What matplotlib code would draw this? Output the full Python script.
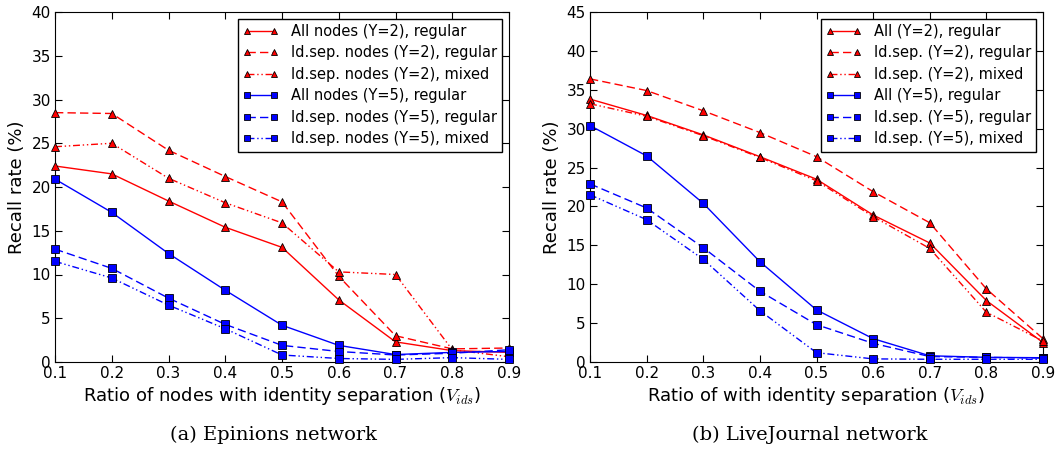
import matplotlib
matplotlib.use("Agg")
import matplotlib.pyplot as plt

plt.rcParams['font.family'] = ['DejaVu Sans']
plt.rcParams['mathtext.fontset'] = 'cm'

x = [0.1, 0.2, 0.3, 0.4, 0.5, 0.6, 0.7, 0.8, 0.9]

# Epinions
ep_all_y2 = [22.4, 21.5, 18.4, 15.4, 13.1, 7.1, 2.3, 1.3, 1.1]
ep_sep_y2_reg = [28.5, 28.4, 24.2, 21.2, 18.3, 9.8, 3.0, 1.5, 1.6]
ep_sep_y2_mix = [24.6, 25.0, 21.0, 18.2, 15.9, 10.3, 10.0, 1.4, 0.6]
ep_all_y5 = [20.9, 17.1, 12.4, 8.2, 4.2, 1.9, 0.85, 1.1, 1.2]
ep_sep_y5_reg = [12.9, 10.7, 7.3, 4.3, 1.9, 1.2, 0.8, 1.0, 1.4]
ep_sep_y5_mix = [11.5, 9.6, 6.5, 3.8, 0.8, 0.4, 0.3, 0.5, 0.3]

# LiveJournal
lj_all_y2 = [33.8, 31.7, 29.2, 26.4, 23.5, 18.9, 15.3, 7.9, 2.5]
lj_sep_y2_reg = [36.4, 34.9, 32.3, 29.5, 26.4, 21.9, 17.9, 9.4, 3.0]
lj_sep_y2_mix = [33.2, 31.6, 29.1, 26.3, 23.3, 18.7, 14.6, 6.4, 2.7]
lj_all_y5 = [30.4, 26.5, 20.4, 12.9, 6.7, 3.0, 0.8, 0.6, 0.55]
lj_sep_y5_reg = [22.9, 19.8, 14.7, 9.1, 4.8, 2.4, 0.7, 0.6, 0.5]
lj_sep_y5_mix = [21.5, 18.3, 13.2, 6.6, 1.2, 0.4, 0.35, 0.35, 0.35]

ep_labels = ["All nodes (Y=2), regular", "Id.sep. nodes (Y=2), regular",
             "Id.sep. nodes (Y=2), mixed", "All nodes (Y=5), regular",
             "Id.sep. nodes (Y=5), regular", "Id.sep. nodes (Y=5), mixed"]
lj_labels = ["All (Y=2), regular", "Id.sep. (Y=2), regular",
             "Id.sep. (Y=2), mixed", "All (Y=5), regular",
             "Id.sep. (Y=5), regular", "Id.sep. (Y=5), mixed"]

xlabels = ["Ratio of nodes with identity separation ($V_{ids}$)",
           "Ratio of with identity separation ($V_{ids}$)"]
captions = ["(a) Epinions network", "(b) LiveJournal network"]

styles = [('r', '^', '-'), ('r', '^', (0, (6, 3))), ('r', '^', (0, (5, 2, 1, 2, 1, 2))),
          ('b', 's', '-'), ('b', 's', (0, (6, 3))), ('b', 's', (0, (5, 2, 1, 2, 1, 2)))]

W, H = 1057, 451
fig = plt.figure(figsize=(W / 100, H / 100), dpi=100)
fig.patch.set_facecolor('white')

axpos = [(55, 509), (590, 1043)]
caption_x = [274, 810]
top, bottom = 12, 362

datasets = [
    [ep_all_y2, ep_sep_y2_reg, ep_sep_y2_mix, ep_all_y5, ep_sep_y5_reg, ep_sep_y5_mix],
    [lj_all_y2, lj_sep_y2_reg, lj_sep_y2_mix, lj_all_y5, lj_sep_y5_reg, lj_sep_y5_mix],
]
ylims = [(0, 40, 5), (0, 45, 5)]
labels_all = [ep_labels, lj_labels]

for i in range(2):
    l, r = axpos[i]
    ax = fig.add_axes([l / W, 1 - bottom / H, (r - l) / W, (bottom - top) / H])
    for ys, (c, m, ls), lab in zip(datasets[i], styles, labels_all[i]):
        ax.plot(x, ys, color=c, marker=m, linestyle=ls, linewidth=1.0,
                markersize=6, markeredgecolor='black', markeredgewidth=0.6,
                label=lab, clip_on=False, zorder=3)
    lo, hi, st = ylims[i]
    ax.set_ylim(lo, hi)
    ax.set_xlim(0.1, 0.9)
    ax.set_yticks(list(range(lo, hi + 1, st)))
    ax.set_xticks(x)
    ax.set_xticklabels([f"{v:.1f}" for v in x])
    ax.tick_params(direction='in', top=True, right=True, labelsize=11, length=5, pad=3)
    ax.set_ylabel("Recall rate (%)", fontsize=13, labelpad=4)
    ax.set_xlabel(xlabels[i], fontsize=13, labelpad=3)
    leg = ax.legend(loc='upper right', fontsize=10.5, numpoints=2, handlelength=2.4,
                    borderpad=0.35, labelspacing=0.45, handletextpad=0.9,
                    fancybox=False, framealpha=1, edgecolor='black',
                    borderaxespad=0.45)
    leg.get_frame().set_linewidth(1.0)
    for h in leg.legend_handles:
        h.set_markersize(5)
    fig.text(caption_x[i] / W, 1 - 435 / H, captions[i], ha='center', va='center',
             fontsize=14, family='DejaVu Serif')

fig.savefig("out.png", dpi=100, facecolor='white')
